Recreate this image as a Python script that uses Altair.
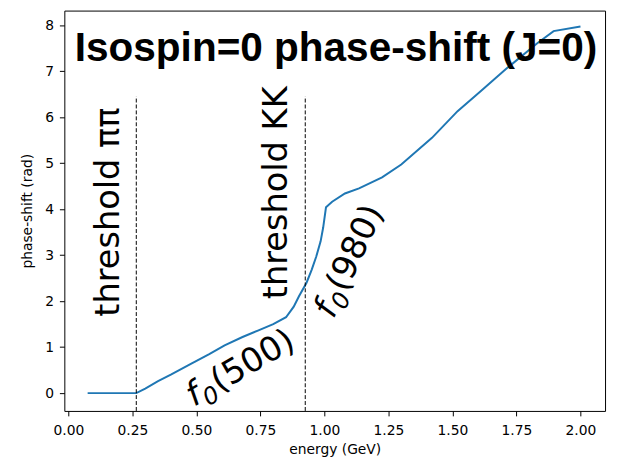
import altair as alt
import pandas as pd

# phase-shift curve
energy = [0.075, 0.265, 0.30, 0.35, 0.40, 0.48, 0.55, 0.61, 0.68, 0.74, 0.80, 0.85,
          0.88, 0.90, 0.93, 0.95, 0.968, 0.985, 0.995, 1.006, 1.03, 1.08, 1.135,
          1.225, 1.30, 1.42, 1.52, 1.61, 1.71, 1.83, 1.895, 2.00]
phase = [0.0, 0.0, 0.10, 0.26, 0.40, 0.64, 0.85, 1.04, 1.22, 1.36, 1.50, 1.65,
         1.88, 2.10, 2.40, 2.68, 2.97, 3.30, 3.60, 4.04, 4.16, 4.34, 4.45,
         4.69, 4.97, 5.55, 6.13, 6.56, 7.05, 7.60, 7.87, 7.97]

# thresholds
thr_x = [0.265, 0.925]
thr_top = [6.45, 6.45]

# annotations
labels = ["threshold ππ", "threshold KK"]
label_x = [0.196, 0.852]
label_y = [1.66, 2.04]

res_names = ["(500)", "(980)"]
res_x = [0.49, 1.035]
res_y = [-0.30, 1.60]
res_angle = [330, 295]

title_text = "Isospin=0 phase-shift (J=0)"
title_x = 1.045
title_y = 7.22

x_ticks = [0.0, 0.25, 0.5, 0.75, 1.0, 1.25, 1.5, 1.75, 2.0]
y_ticks = [0, 1, 2, 3, 4, 5, 6, 7, 8]

XDOM = [-0.016, 2.096]
YDOM = [-0.387, 8.316]

FS = 34  # annotation font size

xs = alt.Scale(domain=XDOM, nice=False, zero=False)
ys = alt.Scale(domain=YDOM, nice=False, zero=False)

curve = pd.DataFrame({"energy": energy, "phase": phase})
thr = pd.DataFrame({"x": thr_x, "y": [YDOM[0]] * len(thr_x), "y2": thr_top})

line = alt.Chart(curve).mark_line(color="#1f77b4", strokeWidth=2).encode(
    x=alt.X("energy:Q", scale=xs,
            axis=alt.Axis(values=x_ticks, format=".2f", title="energy (GeV)",
                          labelPadding=8, titlePadding=5)),
    y=alt.Y("phase:Q", scale=ys,
            axis=alt.Axis(values=y_ticks, format="d", title="phase-shift (rad)",
                          labelPadding=6, titlePadding=10)),
)

rules = alt.Chart(thr).mark_rule(color="black", strokeWidth=1, strokeDash=[4, 2]).encode(
    x=alt.X("x:Q", scale=xs), y=alt.Y("y:Q", scale=ys), y2="y2:Q"
)

layers = [line, rules]

thr_df = pd.DataFrame({"x": label_x, "y": label_y, "t": labels})
layers.append(
    alt.Chart(thr_df).mark_text(angle=270, align="left", baseline="alphabetic",
                                font="DejaVu Sans", fontSize=FS, color="black").encode(
        x=alt.X("x:Q", scale=xs), y=alt.Y("y:Q", scale=ys), text="t:N")
)

# resonance labels: italic f, italic subscript 0, upright mass
f_w = 0.352 * FS + 1
sub_fs = round(FS * 0.7)
sub_w = 0.636 * sub_fs + 1
for name, lx, ly, ang in zip(res_names, res_x, res_y, res_angle):
    d = pd.DataFrame({"x": [lx], "y": [ly]})
    base = alt.Chart(d).encode(x=alt.X("x:Q", scale=xs), y=alt.Y("y:Q", scale=ys))
    layers.append(base.mark_text(angle=ang, align="left", baseline="alphabetic",
                                 font="DejaVu Sans", fontStyle="italic", fontSize=FS,
                                 color="black", text="f"))
    layers.append(base.mark_text(angle=ang, align="left", baseline="alphabetic",
                                 font="DejaVu Sans", fontStyle="italic", fontSize=sub_fs,
                                 color="black", text="0", dx=f_w, dy=7))
    layers.append(base.mark_text(angle=ang, align="left", baseline="alphabetic",
                                 font="DejaVu Sans", fontSize=FS,
                                 color="black", text=name, dx=f_w + sub_w))

tdf = pd.DataFrame({"x": [title_x], "y": [title_y], "t": [title_text]})
layers.append(
    alt.Chart(tdf).mark_text(align="center", baseline="alphabetic", font="Liberation Sans",
                             fontSize=41, fontWeight="bold", color="black").encode(
        x=alt.X("x:Q", scale=xs), y=alt.Y("y:Q", scale=ys), text="t:N")
)

chart = alt.layer(*layers).properties(
    width=547, height=405,
    autosize=alt.AutoSizeParams(type="none"),
    padding={"left": 57, "top": 0, "right": 4, "bottom": 45},
).configure_view(
    stroke="black", strokeWidth=1
).configure_axis(
    labelFont="DejaVu Sans", labelFontSize=14, labelColor="black",
    titleFont="DejaVu Sans", titleFontSize=14, titleFontWeight="normal", titleColor="black",
    tickColor="black", tickSize=5, tickWidth=1,
    domain=False, grid=False,
)

chart.save("out.html", embed_options={"renderer": "svg", "actions": False})
